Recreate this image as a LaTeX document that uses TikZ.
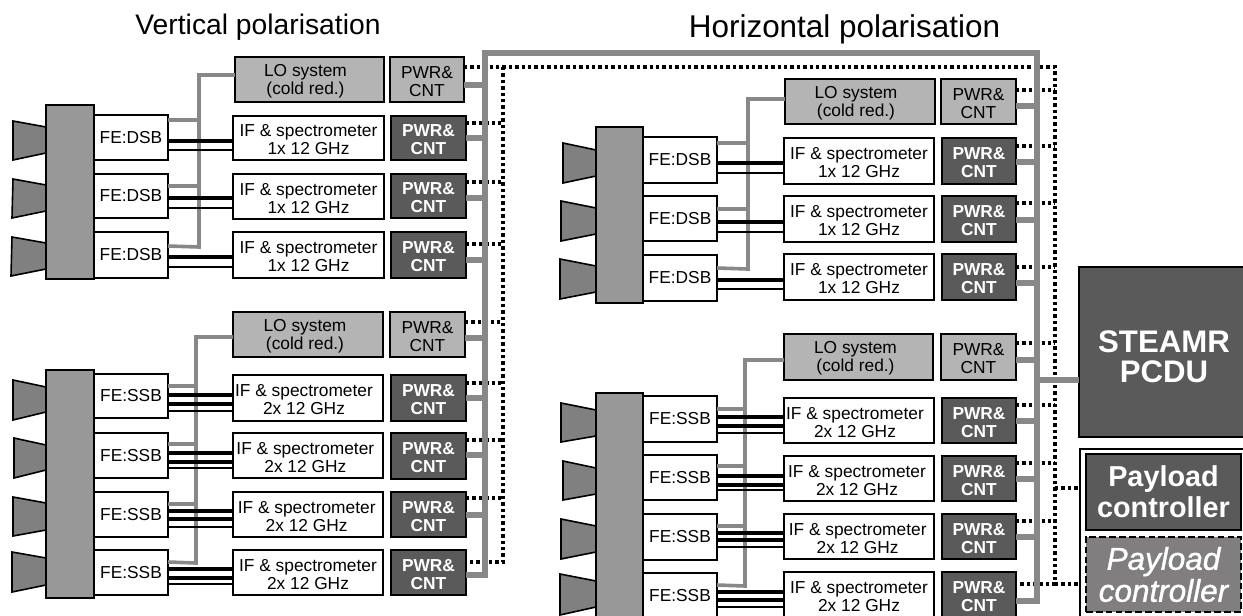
\documentclass[tikz,border=0pt]{standalone}
\usepackage{fontspec}
\setmainfont{Liberation Sans}
\newfontfamily\payfont[ItalicFeatures={FakeBold=1.2}]{Liberation Sans}
\definecolor{blockgray}{HTML}{989898}
\definecolor{horngray}{HTML}{808080}
\definecolor{logray}{HTML}{B4B4B4}
\definecolor{darkbox}{HTML}{5A5A5A}
\definecolor{busgray}{HTML}{888888}
\definecolor{dashfill}{HTML}{807E7E}
\tikzset{
  base/.style={draw=black,line width=1.2pt,rectangle,inner sep=0pt,outer sep=0pt,align=center},
  febox/.style={base,fill=white,font=\fontsize{13}{13.5}\selectfont},
  ifbox/.style={base,fill=white,font=\fontsize{13}{13.5}\selectfont},
  lobox/.style={base,fill=logray,font=\fontsize{13}{13.5}\selectfont},
  pwrdark/.style={base,fill=darkbox,text=white,font=\fontsize{13}{13.5}\bfseries\selectfont},
  block/.style={base,fill=blockgray},
  horn/.style={draw=black,line width=1.2pt,fill=horngray,line join=miter},
  lolink/.style={draw=busgray,line width=2.7pt},
  sigthick/.style={draw=black,line width=2.6pt},
  sigthin/.style={draw=black,line width=1.2pt},
  bus/.style={draw=busgray,line width=4.6pt,line join=miter},
  ctrlline/.style={draw=black,line width=2.4pt,line cap=butt,dash pattern=on 2.6pt off 2.2pt},
  titleone/.style={inner sep=0pt,font=\fontsize{21.2}{24}\selectfont},
  titletwo/.style={inner sep=0pt,font=\fontsize{23.6}{26}\selectfont},
  pcdu/.style={base,fill=darkbox},
  pcdutext/.style={inner sep=0pt,align=center,text=white,font=\fontsize{23.4}{22.5}\bfseries\selectfont},
  payload/.style={base,fill=darkbox,text=white,font=\fontsize{21.6}{23}\bfseries\selectfont},
  payloadred/.style={base,fill=dashfill,text=white,line width=1.5pt,dash pattern=on 5pt off 2.4pt,font=\fontsize{23.6}{24}\payfont\itshape\selectfont},
  outerbox/.style={base,fill=white},
}
\newcommand{\bx}[7]{\node[#1,minimum width={(#5-#3)*0.75pt},minimum height={(#6-#4)*0.75pt}] (#2) at ({(#3+#5)/2},{(#4+#6)/2}) {#7};}
\newcommand{\lift}{\rule{0pt}{11.4pt}}
\newcommand{\Ltxt}[1]{\lift\hspace*{#1pt}LO system\\\hspace*{#1pt}(cold red.)}
\newcommand{\Ptxt}{\lift PWR\&\\CNT}
\newcommand{\Itxt}[2]{\lift\hspace*{#2pt}IF \& spectrometer\\\hspace*{#2pt}#1x 12 GHz}
\begin{document}
\begin{tikzpicture}[x=0.75pt,y=-0.75pt]
\useasboundingbox (0,0) rectangle (1243,615);
\clip (0,0) rectangle (1243,615);
\fill[white] (0,0) rectangle (1243,615);

\node[titleone] (t1) at (258,27) {Vertical polarisation};
\node[titletwo] (t2) at (844.5,29) {Horizontal polarisation};

% horns
\draw[horn] (13,121) -- (46,127) -- (46,153) -- (13,160) -- cycle;
\draw[horn] (13,179) -- (46,185) -- (46,211) -- (12,218) -- cycle;
\draw[horn] (12,237) -- (46,243) -- (46,269) -- (11,276) -- cycle;
\draw[horn] (13,380) -- (46,387) -- (46,412) -- (13,420) -- cycle;
\draw[horn] (14,438) -- (46,445) -- (46,470) -- (14,478) -- cycle;
\draw[horn] (13,497) -- (46,503) -- (46,530) -- (13,536) -- cycle;
\draw[horn] (12,552) -- (46,558) -- (46,585) -- (12,592) -- cycle;
\draw[horn] (563,143) -- (596,150) -- (596,176) -- (563,183) -- cycle;
\draw[horn] (561,201) -- (596,208) -- (596,234) -- (561,241) -- cycle;
\draw[horn] (560,259) -- (596,266) -- (596,292) -- (560,299) -- cycle;
\draw[horn] (561,403) -- (596,410) -- (596,436) -- (561,442) -- cycle;
\draw[horn] (563,461) -- (596,468) -- (596,494) -- (563,500) -- cycle;
\draw[horn] (561,519) -- (596,526) -- (596,552) -- (561,559) -- cycle;
\draw[horn] (560,574) -- (596,581) -- (596,607) -- (560,615) -- cycle;

% blocks
\bx{block}{ma}{46}{105}{94}{279}{}
\bx{block}{mb}{46}{370}{94}{598}{}
\bx{block}{mc}{596}{127}{643}{303}{}
\bx{block}{md}{596}{393}{643}{640}{}

% Front ends
\bx{febox}{fa1}{94}{115}{168}{160}{FE:DSB}
\bx{febox}{fa2}{94}{174}{168}{218}{FE:DSB}
\bx{febox}{fa3}{94}{232}{168}{278}{FE:DSB}
\bx{febox}{fb1}{94}{374}{168}{418}{FE:SSB}
\bx{febox}{fb2}{94}{433}{168}{478}{FE:SSB}
\bx{febox}{fb3}{94}{492}{168}{537}{FE:SSB}
\bx{febox}{fb4}{94}{550}{168}{595}{FE:SSB}
\bx{febox}{fc1}{643}{137}{717}{183}{FE:DSB}
\bx{febox}{fc2}{643}{196}{717}{241}{FE:DSB}
\bx{febox}{fc3}{643}{255}{717}{301}{FE:DSB}
\bx{febox}{fd1}{643}{396}{717}{442}{FE:SSB}
\bx{febox}{fd2}{643}{455}{717}{500}{FE:SSB}
\bx{febox}{fd3}{643}{514}{717}{560}{FE:SSB}
\bx{febox}{fd4}{643}{573}{717}{618}{FE:SSB}

% IF boxes
\bx{ifbox}{ia1}{233}{116}{384}{160}{\Itxt{1}{0}}
\bx{ifbox}{ia2}{233}{174}{384}{219}{\Itxt{1}{0}}
\bx{ifbox}{ia3}{233}{232}{384}{278}{\Itxt{1}{0}}
\bx{ifbox}{ib1}{233}{375}{383}{421}{\Itxt{2}{-6}}
\bx{ifbox}{ib2}{233}{433}{383}{478}{\Itxt{2}{-4}}
\bx{ifbox}{ib3}{233}{492}{383}{537}{\Itxt{2}{-2}}
\bx{ifbox}{ib4}{233}{550}{383}{595}{\Itxt{2}{0}}
\bx{ifbox}{ic1}{784}{138}{934}{184}{\Itxt{1}{0}}
\bx{ifbox}{ic2}{784}{196}{934}{242}{\Itxt{1}{0}}
\bx{ifbox}{ic3}{784}{254}{934}{300}{\Itxt{1}{0}}
\bx{ifbox}{id1}{784}{398}{934}{443}{\Itxt{2}{-6}}
\bx{ifbox}{id2}{784}{456}{934}{501}{\Itxt{2}{-3}}
\bx{ifbox}{id3}{784}{514}{934}{559}{\Itxt{2}{-2}}
\bx{ifbox}{id4}{784}{572}{934}{618}{\Itxt{2}{0}}

% LO systems and their PWR
\bx{lobox}{la}{235}{57}{384}{102}{\Ltxt{-6}}
\bx{lobox}{lb}{233}{312}{383}{357}{\Ltxt{-4.5}}
\bx{lobox}{lc}{785}{79}{935}{124}{\Ltxt{-6}}
\bx{lobox}{ld}{784}{334}{933}{380}{\Ltxt{-4.5}}
\bx{lobox}{pla}{390}{57}{464}{102}{\Ptxt}
\bx{lobox}{plb}{390}{312}{465}{357}{\Ptxt}
\bx{lobox}{plc}{941}{79}{1016}{124}{\Ptxt}
\bx{lobox}{pld}{941}{334}{1016}{380}{\Ptxt}

% dark PWR
\bx{pwrdark}{pa1}{391}{116}{466}{160}{\Ptxt}
\bx{pwrdark}{pa2}{391}{174}{466}{218}{\Ptxt}
\bx{pwrdark}{pa3}{391}{232}{466}{278}{\Ptxt}
\bx{pwrdark}{pb1}{391}{375}{466}{421}{\Ptxt}
\bx{pwrdark}{pb2}{391}{433}{466}{479}{\Ptxt}
\bx{pwrdark}{pb3}{391}{492}{466}{537}{\Ptxt}
\bx{pwrdark}{pb4}{391}{550}{466}{595}{\Ptxt}
\bx{pwrdark}{pc1}{942}{138}{1016}{184}{\Ptxt}
\bx{pwrdark}{pc2}{942}{196}{1016}{242}{\Ptxt}
\bx{pwrdark}{pc3}{942}{254}{1016}{300}{\Ptxt}
\bx{pwrdark}{pd1}{942}{398}{1016}{443}{\Ptxt}
\bx{pwrdark}{pd2}{942}{456}{1016}{501}{\Ptxt}
\bx{pwrdark}{pd3}{942}{514}{1016}{559}{\Ptxt}
\bx{pwrdark}{pd4}{942}{572}{1016}{618}{\Ptxt}

% right-hand units
\bx{pcdu}{steamr}{1079}{267}{1249}{437}{}
\node[pcdutext] (steamrtext) at (1164,357) {STEAMR\\PCDU};
\bx{outerbox}{ctrlbox}{1080}{449}{1270}{650}{}
\bx{payload}{pay}{1086}{454}{1241}{530}{Payload\\controller}
\bx{payloadred}{payr}{1086}{537}{1241}{612}{Payload\\controller}

% LO links
\draw[lolink] (la.west |- 0,75) -| (199,247) -- (fa3.east |- 0,246);
\draw[lolink] (fa1.east |- 0,120) -- (199,120);
\draw[lolink] (fa2.east |- 0,186) -- (199,186);
\draw[lolink] (lb.west |- 0,337) -| (196,563) -- (fb4.east |- 0,562);
\draw[lolink] (fb1.east |- 0,386) -- (196,386);
\draw[lolink] (fb2.east |- 0,444) -- (196,444);
\draw[lolink] (fb3.east |- 0,504) -- (196,504);
\draw[lolink] (lc.west |- 0,99) -| (748,269) -- (fc3.east |- 0,268);
\draw[lolink] (fc1.east |- 0,143) -- (748,143);
\draw[lolink] (fc2.east |- 0,209) -- (748,209);
\draw[lolink] (ld.west |- 0,360) -| (745,586) -- (fd4.east |- 0,585);
\draw[lolink] (fd1.east |- 0,409) -- (745,409);
\draw[lolink] (fd2.east |- 0,466) -- (745,466);
\draw[lolink] (fd3.east |- 0,526) -- (745,526);

% signal lines
\draw[sigthick] (fa1.east |- 0,141) -- (ia1.west |- 0,141);
\draw[sigthin] (fa1.east |- 0,150) -- (ia1.west |- 0,150);
\draw[sigthick] (fa2.east |- 0,198) -- (ia2.west |- 0,198);
\draw[sigthin] (fa2.east |- 0,208) -- (ia2.west |- 0,208);
\draw[sigthick] (fa3.east |- 0,257) -- (ia3.west |- 0,257);
\draw[sigthin] (fa3.east |- 0,267) -- (ia3.west |- 0,267);
\draw[sigthick] (fc1.east |- 0,163) -- (ic1.west |- 0,163);
\draw[sigthin] (fc1.east |- 0,173) -- (ic1.west |- 0,173);
\draw[sigthick] (fc2.east |- 0,222) -- (ic2.west |- 0,222);
\draw[sigthin] (fc2.east |- 0,232) -- (ic2.west |- 0,232);
\draw[sigthick] (fc3.east |- 0,280) -- (ic3.west |- 0,280);
\draw[sigthin] (fc3.east |- 0,289) -- (ic3.west |- 0,289);

\draw[sigthick] (fb1.east |- 0,395) -- (ib1.west |- 0,395);
\draw[sigthick] (fb1.east |- 0,404) -- (ib1.west |- 0,404);
\draw[sigthin] (fb1.east |- 0,411) -- (ib1.west |- 0,411);
\draw[sigthick] (fb2.east |- 0,453) -- (ib2.west |- 0,453);
\draw[sigthick] (fb2.east |- 0,462) -- (ib2.west |- 0,462);
\draw[sigthin] (fb2.east |- 0,468) -- (ib2.west |- 0,468);
\draw[sigthick] (fb3.east |- 0,511) -- (ib3.west |- 0,511);
\draw[sigthick] (fb3.east |- 0,519) -- (ib3.west |- 0,519);
\draw[sigthin] (fb3.east |- 0,527) -- (ib3.west |- 0,527);
\draw[sigthick] (fb4.east |- 0,569) -- (ib4.west |- 0,569);
\draw[sigthick] (fb4.east |- 0,578) -- (ib4.west |- 0,578);
\draw[sigthin] (fb4.east |- 0,584) -- (ib4.west |- 0,584);

\draw[sigthick] (fd1.east |- 0,417) -- (id1.west |- 0,417);
\draw[sigthick] (fd1.east |- 0,426) -- (id1.west |- 0,426);
\draw[sigthin] (fd1.east |- 0,433) -- (id1.west |- 0,433);
\draw[sigthick] (fd2.east |- 0,476) -- (id2.west |- 0,476);
\draw[sigthick] (fd2.east |- 0,485) -- (id2.west |- 0,485);
\draw[sigthin] (fd2.east |- 0,490) -- (id2.west |- 0,490);
\draw[sigthick] (fd3.east |- 0,533) -- (id3.west |- 0,533);
\draw[sigthick] (fd3.east |- 0,540) -- (id3.west |- 0,540);
\draw[sigthin] (fd3.east |- 0,547) -- (id3.west |- 0,547);
\draw[sigthick] (fd4.east |- 0,592) -- (id4.west |- 0,592);
\draw[sigthick] (fd4.east |- 0,600) -- (id4.west |- 0,600);
\draw[sigthin] (fd4.east |- 0,607) -- (id4.west |- 0,607);

% control (dotted) lines
\coordinate (dl) at (503,67);
\coordinate (dr) at (1055,67);
\draw[ctrlline] (pla.east |- 0,67) -- (dr) -- (dr |- 0,584) -- (pd4.east |- 0,584);
\draw[ctrlline] (dl) -- (dl |- 0,562) -- (pb4.east |- 0,562);
\draw[ctrlline] (pa1.east |- 0,123) -- (dl |- 0,123);
\draw[ctrlline] (pa2.east |- 0,182) -- (dl |- 0,182);
\draw[ctrlline] (pa3.east |- 0,244) -- (dl |- 0,244);
\draw[ctrlline] (plb.east |- 0,322) -- (dl |- 0,322);
\draw[ctrlline] (pb1.east |- 0,383) -- (dl |- 0,383);
\draw[ctrlline] (pb2.east |- 0,440) -- (dl |- 0,440);
\draw[ctrlline] (pb3.east |- 0,498) -- (dl |- 0,498);
\draw[ctrlline] (plc.east |- 0,90) -- (dr |- 0,90);
\draw[ctrlline] (pc1.east |- 0,146) -- (dr |- 0,146);
\draw[ctrlline] (pc2.east |- 0,203) -- (dr |- 0,203);
\draw[ctrlline] (pc3.east |- 0,267) -- (dr |- 0,267);
\draw[ctrlline] (pld.east |- 0,343) -- (dr |- 0,343);
\draw[ctrlline] (pd1.east |- 0,405) -- (dr |- 0,405);
\draw[ctrlline] (pd2.east |- 0,463) -- (dr |- 0,463);
\draw[ctrlline] (pd3.east |- 0,521) -- (dr |- 0,521);
\draw[ctrlline] (dr |- 0,488) -- (ctrlbox.west |- 0,488);
\draw[ctrlline] (dr |- 0,584) -- (ctrlbox.west |- 0,584);

% power bus
\coordinate (bl) at (485,53);
\coordinate (br) at (1037,53);
\draw[bus] (pb4.east |- 0,575) -- (bl |- 0,575) -- (bl) -- (br) -- (br |- 0,601) -- (pd4.east |- 0,601);
\draw[bus] (pla.east |- 0,85) -- (bl |- 0,85);
\draw[bus] (pa1.east |- 0,138) -- (bl |- 0,138);
\draw[bus] (pa2.east |- 0,198) -- (bl |- 0,198);
\draw[bus] (pa3.east |- 0,260) -- (bl |- 0,260);
\draw[bus] (plb.east |- 0,338) -- (bl |- 0,338);
\draw[bus] (pb1.east |- 0,398) -- (bl |- 0,398);
\draw[bus] (pb2.east |- 0,455) -- (bl |- 0,455);
\draw[bus] (pb3.east |- 0,515) -- (bl |- 0,515);
\draw[bus] (plc.east |- 0,106) -- (br |- 0,106);
\draw[bus] (pc1.east |- 0,162) -- (br |- 0,162);
\draw[bus] (pc2.east |- 0,220) -- (br |- 0,220);
\draw[bus] (pc3.east |- 0,283) -- (br |- 0,283);
\draw[bus] (pld.east |- 0,360) -- (br |- 0,360);
\draw[bus] (pd1.east |- 0,421) -- (br |- 0,421);
\draw[bus] (pd2.east |- 0,479) -- (br |- 0,479);
\draw[bus] (pd3.east |- 0,537) -- (br |- 0,537);
\draw[bus] (br |- 0,380) -- (steamr.west |- 0,380);
\end{tikzpicture}
\end{document}
